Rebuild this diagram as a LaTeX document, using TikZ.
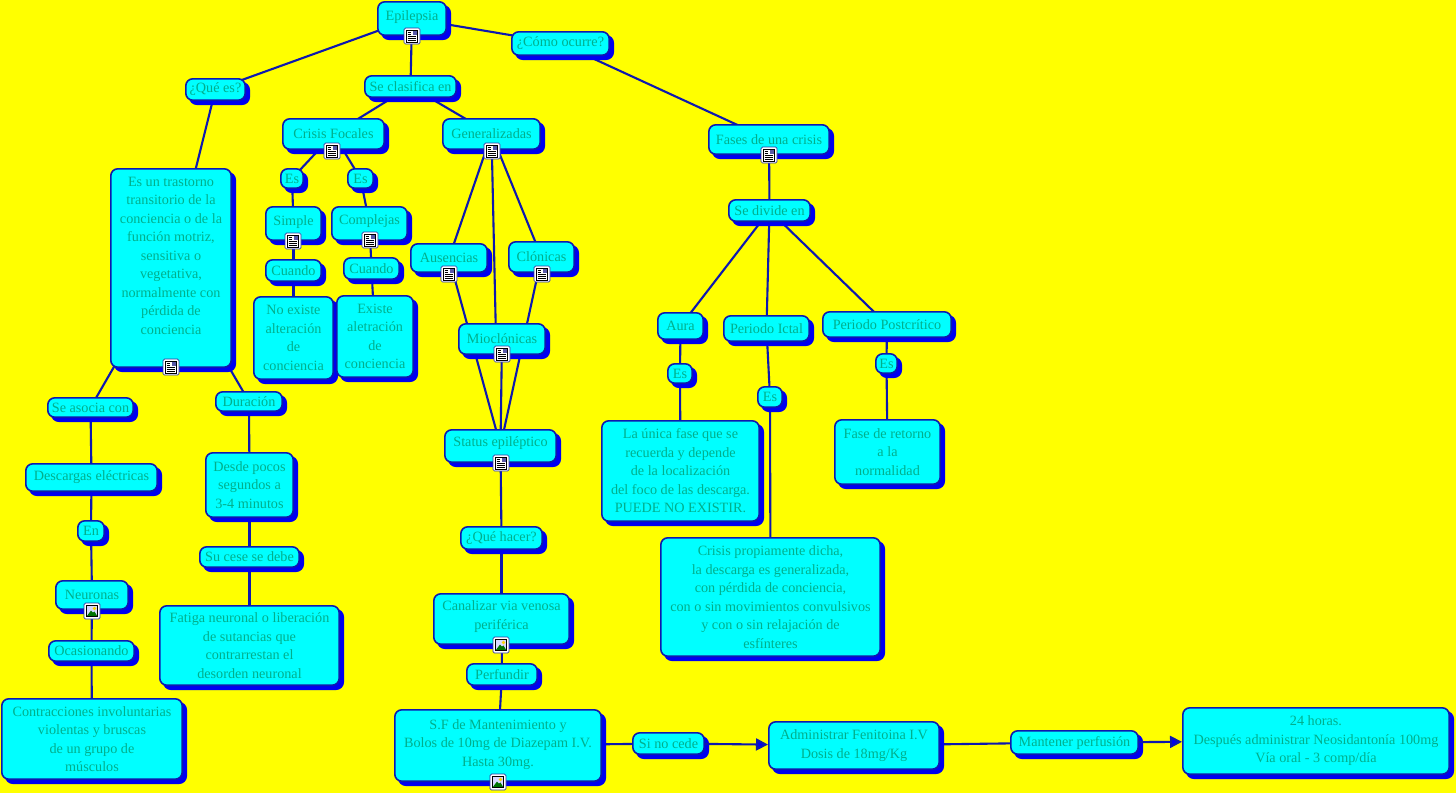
\documentclass[tikz,border=0pt]{standalone}
\usepackage{fontspec}
\setmainfont{Liberation Serif}
\usetikzlibrary{shadows,backgrounds,arrows.meta,calc}
\definecolor{bgy}{RGB}{255,255,0}
\definecolor{boxc}{RGB}{0,255,255}
\definecolor{edgec}{RGB}{14,24,175}
\definecolor{shad}{RGB}{0,0,240}
\definecolor{txt}{RGB}{0,175,140}
\tikzset{x=1pt,y=-1pt,
  bx/.style={draw=edgec,line width=1.6pt,fill=boxc,rounded corners=7pt,align=center,text=txt,inner sep=0pt,
    font=\fontsize{14.2}{18.5}\selectfont,
    copy shadow={shadow xshift=4pt,shadow yshift=-4pt,fill=shad,draw=shad,opacity=1}},
  lnk/.style={draw=edgec,line width=2.1pt},
  arr/.style={lnk,-{Triangle[length=12pt,width=12pt,fill=shad]}},
  icbox/.style={draw=edgec!70!gray,line width=.7pt,fill=white,rounded corners=1.5pt,minimum size=16pt,inner sep=0pt}}
% name x0 y0 x1 y1 text
\newcommand{\bx}[6]{\node[bx,minimum width={#4-#2-1.6pt},minimum height={#5-#3-1.6pt}] (#1) at ({(#2+#4)/2},{(#3+#5)/2}) {#6};}
\newcommand{\icimg}[3]{\node[icbox] (#1) at (#2,#3) {};
  \fill[blue!15] (#2-5.5,#3-5.5) rectangle (#2+5.5,#3+5.5);
  \fill[yellow!70!orange] (#2+2.5,#3-2.5) circle (1.8);
  \fill[green!45!black] (#2-5.5,#3+5.5) -- (#2-1,#3-.5) -- (#2+1,#3+1.5) -- (#2+2.5,#3+.5) -- (#2+5.5,#3+5.5) -- cycle;
  \draw[black,line width=.6pt] (#2-5.5,#3-5.5) rectangle (#2+5.5,#3+5.5);}
\newcommand{\icdoc}[3]{\node[icbox] (#1) at (#2,#3) {};
  \draw[black,line width=.6pt,fill=white] (#2-5.5,#3-6) rectangle (#2+5.5,#3+6);
  \fill[gray!70!blue] (#2+.5,#3-5) rectangle (#2+4.5,#3-1);
  \foreach \yy in {-3.8,-1.8} {\draw[black,line width=.8pt] (#2-4.3,#3+\yy) -- (#2-.7,#3+\yy);}
  \foreach \yy in {.6,2.4,4.2} {\draw[black,line width=.8pt] (#2-4.3,#3+\yy) -- (#2+4.3,#3+\yy);}}
\begin{document}
\begin{tikzpicture}
\useasboundingbox (0,0) rectangle (1456,793);
\bx{epi}{377}{1}{447}{36}{Epilepsia\\[-12.5pt]}
\bx{como}{511}{31}{610}{56}{¿Cómo ocurre?}
\bx{clas}{364}{75}{457}{98}{Se clasifica en}
\bx{que}{185}{78}{246}{101}{¿Qué es?}
\bx{foc}{282}{118}{385}{150}{Crisis Focales}
\bx{gen}{442}{118}{541}{150}{Generalizadas}
\bx{fases}{708}{124}{830}{155}{Fases de una crisis}
\bx{tras}{110}{168}{232}{368}{Es un trastorno\\transitorio de la\\conciencia o de la\\función motriz,\\sensitiva o\\vegetativa,\\normalmente con\\pérdida de\\conciencia\\[6.5pt]}
\bx{asoc}{47}{397}{134}{418}{Se asocia con}
\bx{dur}{215}{391}{283}{412}{Duración}
\bx{desc}{25}{463}{158}{492}{Descargas eléctricas}
\bx{desde}{205}{452}{294}{518}{Desde pocos\\segundos a\\3-4 minutos}
\bx{en}{77}{520}{105}{542}{En}
\bx{cese}{199}{546}{300}{568}{Su cese se debe}
\bx{neu}{55}{580}{129}{610}{Neuronas}
\bx{oca}{48}{640}{135}{662}{Ocasionando}
\bx{fat}{159}{605}{340}{686}{Fatiga neuronal o liberación\\de sutancias que\\contrarrestan el\\desorden neuronal}
\bx{con}{1}{698}{183}{780}{Contracciones involuntarias\\violentas y bruscas\\de un grupo de\\músculos}
\bx{esa}{280}{168}{304}{189}{Es}
\bx{esb}{347}{168}{374}{189}{Es}
\bx{sim}{265}{206}{322}{241}{Simple\\[-12.5pt]}
\bx{com}{331}{206}{408}{241}{Complejas\\[-10.5pt]}
\bx{cua}{265}{259}{322}{282}{Cuando}
\bx{cub}{343}{257}{400}{280}{Cuando}
\bx{noe}{253}{296}{334}{380}{No existe\\alteración\\de\\conciencia}
\bx{exi}{336}{295}{414}{378}{Existe\\aletración\\de\\conciencia}
\bx{aus}{410}{243}{488}{273}{Ausencias}
\bx{clo}{508}{241}{575}{273}{Clónicas}
\bx{mio}{458}{323}{546}{355}{Mioclónicas}
\bx{sta}{444}{429}{557}{463}{Status epiléptico\\[-10.5pt]}
\bx{qha}{460}{526}{543}{550}{¿Qué hacer?}
\bx{can}{433}{593}{570}{645}{Canalizar via venosa\\periférica\\[-10.5pt]}
\bx{per}{466}{663}{538}{686}{Perfundir}
\bx{sf}{394}{709}{602}{782}{S.F de Mantenimiento y\\Bolos de 10mg de Diazepam I.V.\\Hasta 30mg.\\[-13.5pt]}
\bx{sin}{632}{732}{705}{755}{Si no cede}
\bx{adm}{768}{721}{940}{770}{Administrar Fenitoina I.V\\Dosis de 18mg/Kg}
\bx{man}{1010}{730}{1139}{755}{Mantener perfusión}
\bx{hor}{1182}{707}{1450}{775}{24 horas.\\Después administrar Neosidantonía 100mg\\Vía oral - 3 comp/día}
\bx{div}{728}{199}{811}{222}{Se divide en}
\bx{aur}{657}{312}{704}{340}{Aura}
\bx{ict}{723}{315}{810}{342}{Periodo Ictal}
\bx{pos}{822}{311}{952}{338}{Periodo Postcrítico}
\bx{esc}{667}{363}{693}{384}{Es}
\bx{esd}{757}{386}{783}{408}{Es}
\bx{ese}{875}{353}{898}{374}{Es}
\bx{uni}{601}{420}{760}{522}{La única fase que se\\recuerda y depende\\de la localización\\del foco de las descarga.\\PUEDE NO EXISTIR.}
\bx{ret}{834}{419}{941}{485}{Fase de retorno\\a la\\normalidad}
\bx{pro}{660}{537}{881}{657}{Crisis propiamente dicha,\\la descarga es generalizada,\\con pérdida de conciencia,\\con o sin movimientos convulsivos\\y con o sin relajación de\\esfínteres}
\icdoc{ia}{412}{36}
\icdoc{ib}{332}{151}
\icdoc{ic}{492}{151}
\icdoc{id}{769}{155}
\icdoc{ie}{171}{367}
\icdoc{if}{293}{241}
\icdoc{ig}{370}{240}
\icdoc{ih}{449}{274}
\icdoc{ii}{542}{274}
\icdoc{ij}{502}{354}
\icdoc{ik}{501}{463}
\icimg{il}{92}{611}
\icimg{im}{501}{645}
\icimg{in}{498}{782}
\begin{scope}[on background layer]
\fill[bgy] (0,0) rectangle (1456,793);
\foreach \a/\b in {epi/que,epi/clas,epi/como,como/fases,clas/foc,clas/gen,que/tras,tras/asoc,tras/dur,asoc/desc,desc/en,en/neu,neu/oca,oca/con,dur/desde,desde/cese,cese/fat,foc/esa,foc/esb,esa/sim,esb/com,sim/cua,com/cub,cua/noe,cub/exi,gen/aus,gen/clo,aus/sta,clo/sta,mio/sta,sta/qha,qha/can,can/per,per/sf,sf/sin,adm/man,fases/div,div/aur,div/ict,div/pos,aur/esc,esc/uni,ict/esd,esd/pro,pos/ese,ese/ret}
  {\draw[lnk] (\a.center) -- (\b.center);}
\draw[lnk] (gen.center) -- ([xshift=-6pt]mio.center);
\end{scope}
\draw[arr] (sin) -- (adm);
\draw[arr] (man) -- (hor);
\end{tikzpicture}
\end{document}
